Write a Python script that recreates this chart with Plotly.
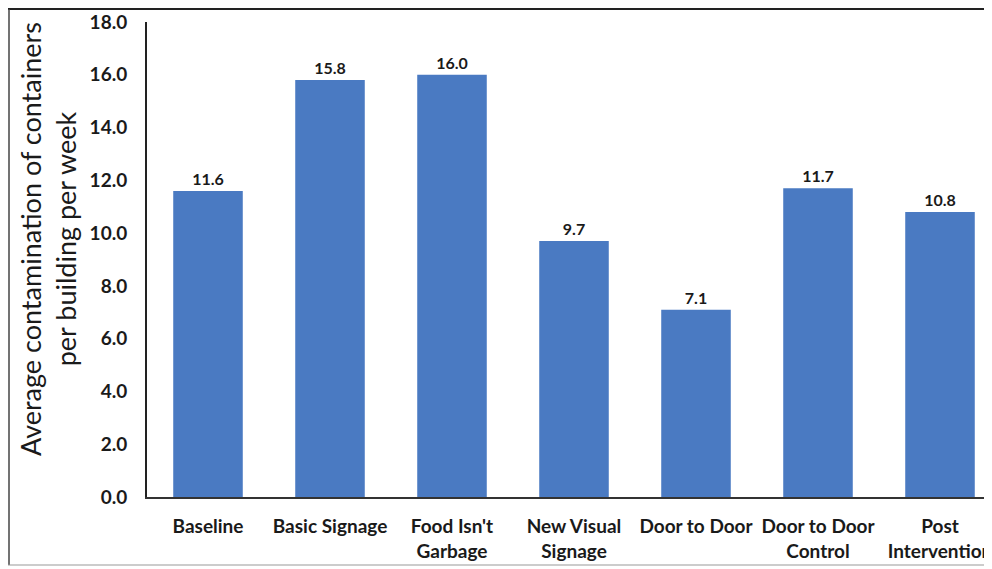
import plotly.graph_objects as go

categories = ["Baseline", "Basic Signage", "Food Isn't<br>Garbage", "New Visual<br>Signage",
              "Door to Door", "Door to Door<br>Control", "Post<br>Intervention"]
values = [11.6, 15.8, 16.0, 9.7, 7.1, 11.7, 10.8]
value_labels = ["11.6", "15.8", "16.0", "9.7", "7.1", "11.7", "10.8"]
y_ticks = [0, 2, 4, 6, 8, 10, 12, 14, 16, 18]
y_title = "Average contamination of containers<br>per building per week"

FONT = "Lato, Carlito, Calibri, sans-serif"
OFF = 8  # page body margin
W, H = 992 - OFF, 569 - OFF
L, R, T = 147 - OFF, 0, 22 - OFF
ph = 475
B = H - T - ph
pw = W - L - R

fig = go.Figure()
fig.add_trace(go.Bar(
    x=list(range(len(categories))), y=values,
    marker=dict(color="#4a7ac2", line=dict(width=0)),
    text=value_labels, textposition="outside",
    textfont=dict(family=FONT, size=16, color="#1a1a1a", weight="bold"),
    cliponaxis=False, width=0.57,
))

def px_x(p):
    return (p - OFF - L) / pw

def px_y(p):
    return (H - B - (p - OFF)) / ph

fig.update_layout(
    width=W, height=H,
    margin=dict(l=L, r=R, t=T, b=B, autoexpand=False),
    plot_bgcolor="white", paper_bgcolor="white",
    showlegend=False,
    font=dict(family=FONT, color="#1a1a1a"),
    xaxis=dict(
        tickmode="array", tickvals=list(range(len(categories))), ticktext=categories,
        range=[-0.5, -0.5 + pw / 122.0],
        showline=True, linecolor="#333333", linewidth=2,
        showgrid=False, zeroline=False, ticks="outside", ticklen=11, tickcolor="rgba(0,0,0,0)",
        tickfont=dict(family=FONT, size=19, color="#1a1a1a", weight="bold"),
        automargin=False, ticklabeloverflow="allow",
    ),
    yaxis=dict(
        range=[0, 18], tickmode="array", tickvals=y_ticks,
        ticktext=[f"{v:.1f}" for v in y_ticks],
        showline=True, linecolor="#222222", linewidth=2,
        showgrid=False, zeroline=False, ticks="outside", ticklen=14, tickcolor="rgba(0,0,0,0)",
        tickfont=dict(family=FONT, size=19, color="#1a1a1a", weight="bold"),
        automargin=False, ticklabeloverflow="allow",
    ),
    annotations=[dict(
        text=y_title, textangle=-90, showarrow=False,
        xref="paper", yref="paper", x=px_x(48), y=px_y(239),
        xanchor="center", yanchor="middle",
        font=dict(family=FONT, size=27, color="#1a1a1a"),
    )],
    shapes=[
        dict(type="line", xref="paper", yref="paper", x0=px_x(OFF), x1=px_x(992), y0=px_y(OFF + 1), y1=px_y(OFF + 1),
             line=dict(color="#222222", width=2)),
        dict(type="line", xref="paper", yref="paper", x0=px_x(OFF + 1), x1=px_x(OFF + 1), y0=px_y(OFF + 1), y1=px_y(565),
             line=dict(color="#444444", width=1.5)),
        dict(type="line", xref="paper", yref="paper", x0=px_x(OFF), x1=px_x(992), y0=px_y(565), y1=px_y(565),
             line=dict(color="#999999", width=1)),
    ],
)

fig.write_html("out.html")
